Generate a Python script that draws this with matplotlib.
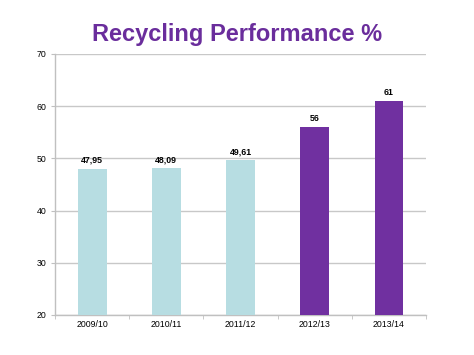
import matplotlib
matplotlib.use("Agg")
import matplotlib.pyplot as plt
import numpy as np

categories = ["2009/10", "2010/11", "2011/12", "2012/13", "2013/14"]
values = [47.95, 48.09, 49.61, 56, 61]
labels = ["47,95", "48,09", "49,61", "56", "61"]
colors = ["#b7dde2", "#b7dde2", "#b7dde2", "#7030a0", "#7030a0"]

plt.rcParams['font.family'] = ['Liberation Sans', 'DejaVu Sans']

fig = plt.figure(figsize=(4.74, 3.55), dpi=100)
ax = fig.add_axes([0.116, 0.113, 0.783, 0.735])

x = np.arange(len(categories))
ax.bar(x, values, width=0.39, color=colors, zorder=3)
for xi, v, lab in zip(x, values, labels):
    ax.text(xi, v + 0.8, lab, ha='center', va='bottom', fontsize=6.3, fontweight='bold', zorder=4)

ax.set_ylim(20, 70)
ax.set_xlim(-0.5, len(categories) - 0.5)
ax.set_yticks([20, 30, 40, 50, 60, 70])
ax.yaxis.grid(True, color='#c8c8c8', linewidth=1.0, zorder=0)
ax.set_xticks(x)
ax.set_xticklabels(categories)
ax.set_xticks(np.arange(-0.5, len(categories)), minor=True)
ax.tick_params(axis='x', which='major', length=0, labelsize=6.3, pad=4)
ax.tick_params(axis='x', which='minor', length=3, color='#c0c0c0')
ax.tick_params(axis='y', length=3, color='#c0c0c0', labelsize=6.3, pad=3)
for s in ['top', 'right']:
    ax.spines[s].set_visible(False)
for s in ['left', 'bottom']:
    ax.spines[s].set_color('#c0c0c0')
    ax.spines[s].set_linewidth(1.0)

fig.text(0.5, 0.903, "Recycling Performance %", ha='center', va='center',
         fontsize=17, fontweight='bold', color='#6a2d9c')

fig.savefig("out.png", dpi=100, facecolor='white')
